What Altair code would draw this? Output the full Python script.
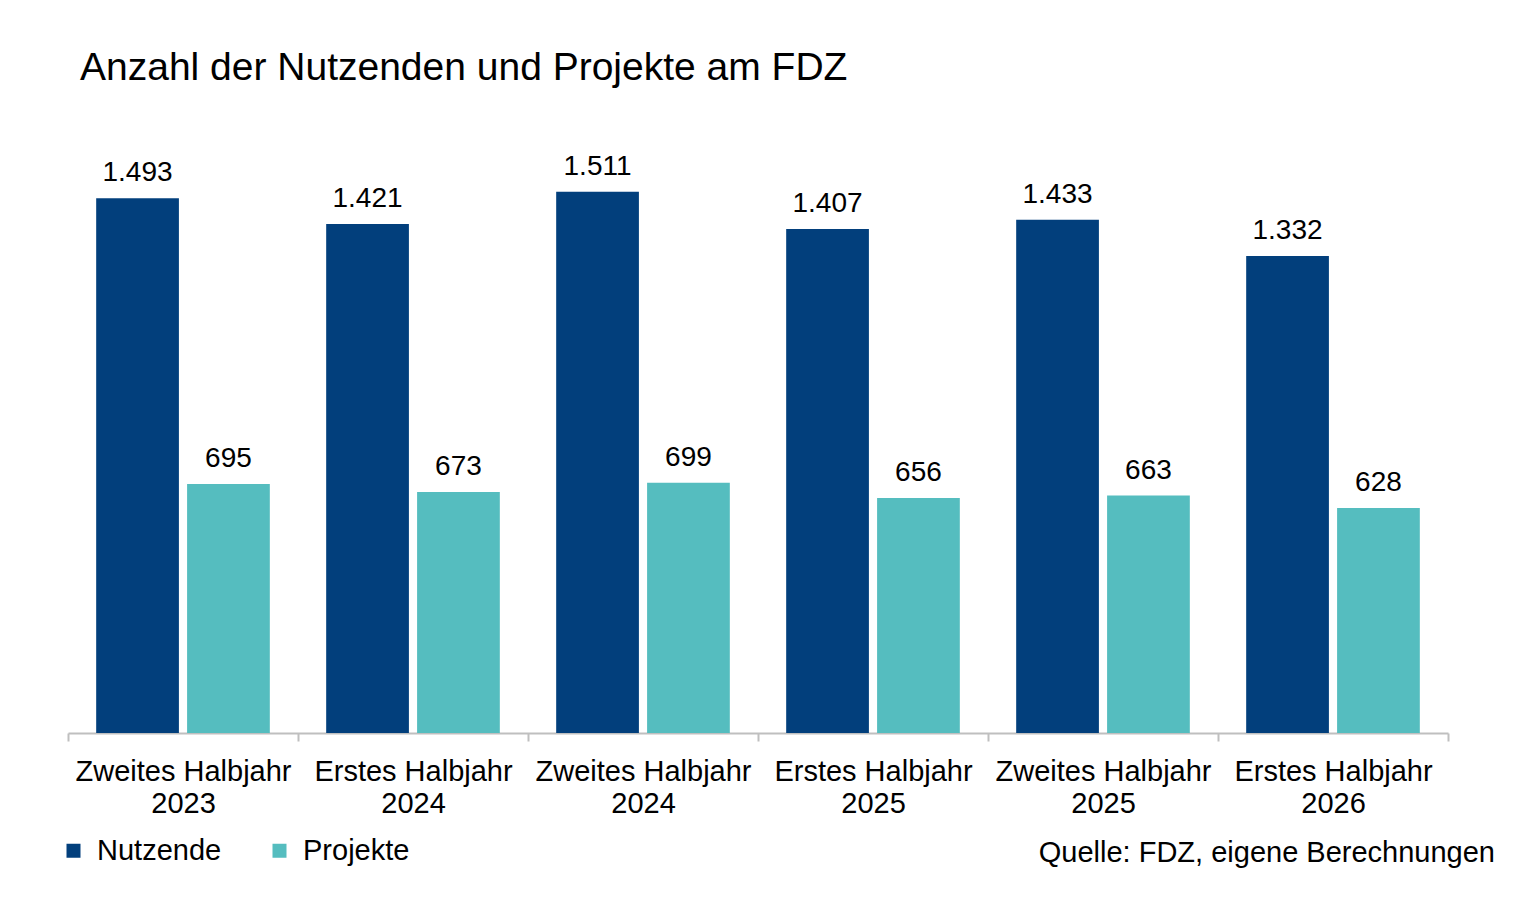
import altair as alt
import pandas as pd

halbjahr = ["Zweites Halbjahr", "Erstes Halbjahr", "Zweites Halbjahr",
            "Erstes Halbjahr", "Zweites Halbjahr", "Erstes Halbjahr"]
jahre = ["2023", "2024", "2024", "2025", "2025", "2026"]
nutzende = [1493, 1421, 1511, 1407, 1433, 1332]
projekte = [695, 673, 699, 656, 663, 628]
serien = ["Nutzende", "Projekte"]
farben = ["#023F7C", "#55BDBF"]
titel = "Anzahl der Nutzenden und Projekte am FDZ"
quelle = "Quelle: FDZ, eigene Berechnungen"

cats = [f"{h}|{j}" for h, j in zip(halbjahr, jahre)]
rows = []
for c, n, p in zip(cats, nutzende, projekte):
    rows.append({"kat": c, "serie": serien[0], "wert": n})
    rows.append({"kat": c, "serie": serien[1], "wert": p})
df = pd.DataFrame(rows)

FONT = "Liberation Sans"
W, H = 1380, 573

x = alt.X("kat:N", sort=cats, title=None,
          scale=alt.Scale(paddingInner=0, paddingOuter=0),
          axis=alt.Axis(labelExpr="split(datum.label, '|')", labelAngle=0,
                        labelFontSize=29, labelColor="#000000", labelFont=FONT,
                        labelLineHeight=32, labelBaseline="top", labelPadding=16,
                        labelLimit=0,
                        tickBand="extent", tickSize=8, tickColor="#BFBFBF", tickWidth=2,
                        domainColor="#BFBFBF", domainWidth=2, grid=False))
xoff = alt.XOffset("serie:N", sort=serien,
                   scale=alt.Scale(paddingInner=0.09, paddingOuter=0.31))
y = alt.Y("wert:Q", scale=alt.Scale(domain=[0, 1600], nice=False), axis=None)
color = alt.Color("serie:N", sort=serien,
                  scale=alt.Scale(domain=serien, range=farben),
                  legend=alt.Legend(title=None, orient="none", legendX=-9, legendY=676,
                                    direction="horizontal", symbolType="square",
                                    symbolSize=196, symbolStrokeWidth=0,
                                    labelFontSize=29, labelFont=FONT, labelColor="#000000",
                                    labelOffset=9, columnPadding=43, padding=0))

base = alt.Chart(df)
bars = base.mark_bar().encode(x=x, xOffset=xoff, y=y, color=color)
labels = base.transform_calculate(
    lab="replace(format(datum.wert, ','), ',', '.')"
).mark_text(baseline="alphabetic", dy=-17, fontSize=28, font=FONT, color="#000000").encode(
    x=x, xOffset=xoff, y=y, text="lab:N")

src = alt.Chart(pd.DataFrame({"t": [quelle]})).mark_text(
    align="right", baseline="alphabetic", fontSize=29, font=FONT, color="#000000"
).encode(x=alt.value(W + 47), y=alt.value(702), text="t:N")

chart = alt.layer(bars, labels, src).properties(
    width=W, height=H,
    autosize=alt.AutoSizeParams(type="none"),
    padding={"left": 60, "top": 152, "right": 58, "bottom": 168},
    title=alt.Title(titel, anchor="start", frame="group", fontSize=39, font=FONT,
                    fontWeight="normal", color="#000000", baseline="alphabetic",
                    offset=34, dx=12),
    background="white",
).configure_view(stroke=None)

chart.save("out.html", embed_options={"renderer": "svg", "actions": False})
